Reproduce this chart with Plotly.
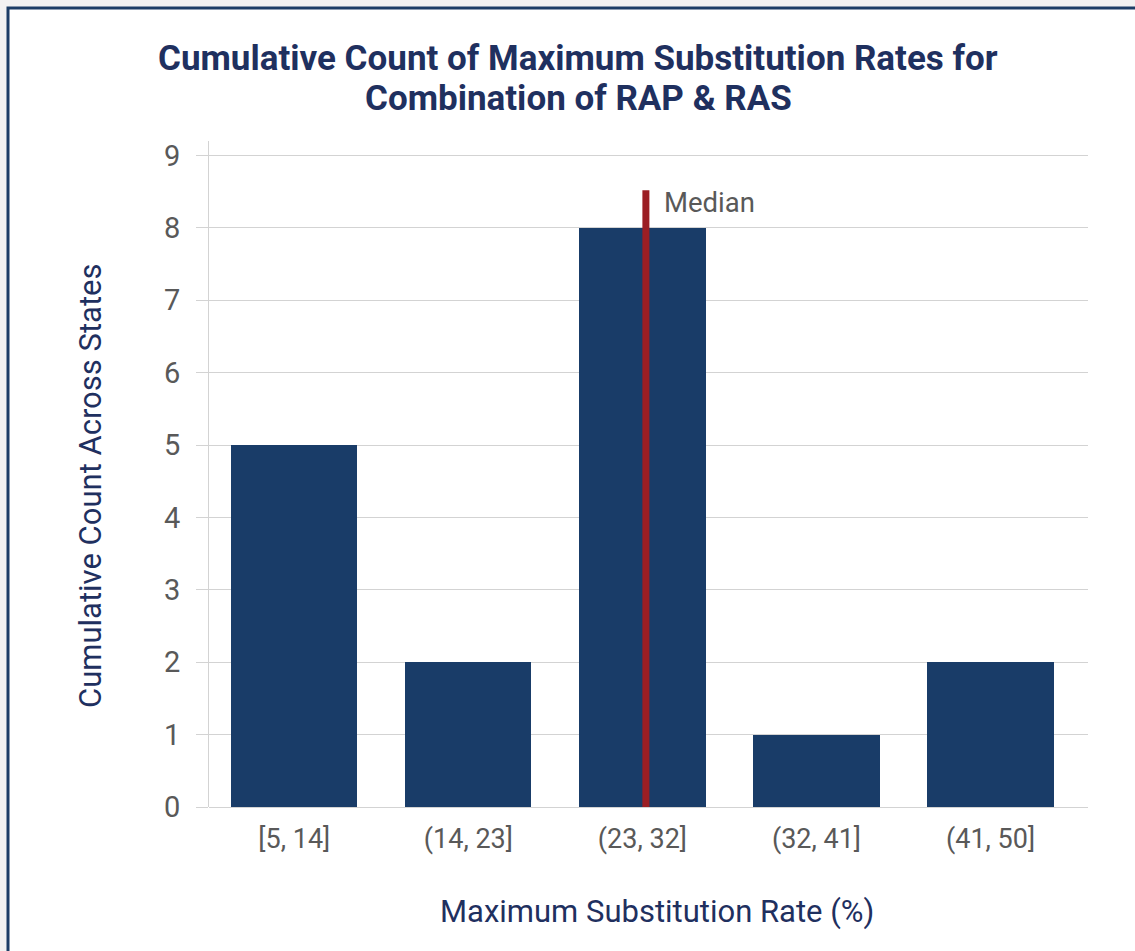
import plotly.graph_objects as go

categories = ["[5, 14]", "(14, 23]", "(23, 32]", "(32, 41]", "(41, 50]"]
counts = [5, 2, 8, 1, 2]
median_position = 2.02  # in category units
median_top = 8.52
y_ticks = list(range(0, 10))
title_lines = ["Cumulative Count of Maximum Substitution Rates for", "Combination of RAP & RAS"]

W, H = 1135, 951
L, R, T, B = 209, 1088, 141, 807

def px_x(x):
    return (x - L) / (R - L)

def px_y(y):
    return (B - y) / (B - T)

navy = "#1f305f"
gray_txt = "#595959"
grid = "#d3d3d3"

fig = go.Figure()
fig.add_trace(go.Bar(
    x=list(range(len(categories))), y=counts,
    marker=dict(color="#193c68", line=dict(width=0)),
    width=0.725, hoverinfo="skip", showlegend=False,
))
fig.add_trace(go.Scatter(
    x=[median_position, median_position], y=[0, median_top],
    mode="lines", line=dict(color="#9b1e24", width=7),
    hoverinfo="skip", showlegend=False,
))

title_ann = [
    dict(text="<b>%s</b>" % line, xref="paper", yref="paper",
         x=px_x(578), y=px_y(yy), xanchor="center", yanchor="middle", showarrow=False,
         font=dict(size=35, color=navy, family="Roboto"))
    for line, yy in zip(title_lines, [58, 98])
]

fig.update_layout(
    width=W, height=H,
    margin=dict(l=L, r=W - R, t=T, b=H - B, pad=0),
    paper_bgcolor="#f2f2f2",
    plot_bgcolor="white",
    font=dict(family="Roboto", color=gray_txt),
    bargap=0,
    xaxis=dict(
        range=[-0.49, 4.56],
        tickmode="array", tickvals=list(range(len(categories))), ticktext=categories,
        tickfont=dict(size=27, color=gray_txt),
        showgrid=False, showline=False, zeroline=False, ticks="",
        ticklabelstandoff=13,
    ),
    yaxis=dict(
        range=[0, 9.2],
        tickmode="array", tickvals=y_ticks,
        tickfont=dict(size=29, color=gray_txt),
        showgrid=True, gridcolor=grid, gridwidth=1,
        zeroline=True, zerolinecolor=grid, zerolinewidth=1,
        showline=True, linecolor=grid, linewidth=1,
        ticks="outside", ticklen=12, tickcolor=grid, tickwidth=1,
        ticklabelstandoff=10,
    ),
    shapes=[dict(
        type="rect", xref="paper", yref="paper", layer="below",
        x0=px_x(8), x1=px_x(1160), y0=px_y(8), y1=px_y(980),
        fillcolor="white", line=dict(color="#1c3d66", width=3),
    )],
    annotations=title_ann + [
        dict(text="Cumulative Count Across States",
             xref="paper", yref="paper", x=px_x(90), y=px_y(486),
             xanchor="center", yanchor="middle", showarrow=False, textangle=-90,
             font=dict(size=31, color=navy, family="Roboto")),
        dict(text="Maximum Substitution Rate (%)",
             xref="paper", yref="paper", x=px_x(657), y=px_y(911),
             xanchor="center", yanchor="middle", showarrow=False,
             font=dict(size=31, color=navy, family="Roboto")),
        dict(text="Median", x=median_position, y=median_top, xref="x", yref="y",
             xanchor="left", yanchor="middle", xshift=16, yshift=-12, showarrow=False,
             font=dict(size=27.5, color=gray_txt, family="Roboto")),
    ],
)

fig.write_html("out.html")
